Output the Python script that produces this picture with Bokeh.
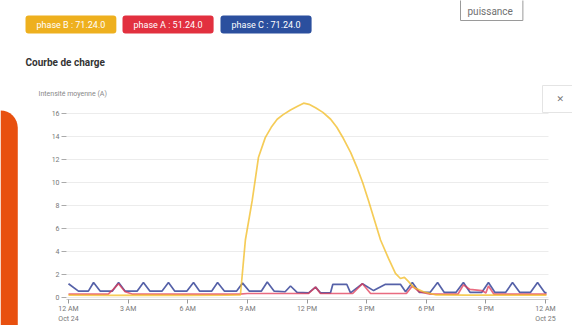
from bokeh.plotting import figure
from bokeh.models import (FixedTicker, Label, GlobalInlineStyleSheet, Range1d, LinearAxis, Grid)
from bokeh.embed import file_html
from bokeh.resources import INLINE

# ---------------- data (hours since 12 AM Oct 24) ----------------
phase_c_hours = [0.0, 0.5, 1.0, 1.26, 1.6, 2.2, 2.52, 2.85, 3.45, 3.77, 4.1, 4.7, 5.03, 5.35,
                 5.95, 6.29, 6.6, 7.2, 7.5, 7.85, 8.45, 8.76, 9.1, 9.7, 10.0, 10.35, 10.9,
                 11.17, 11.5, 12.08, 12.43, 12.68, 13.18, 13.3, 14.0, 14.19, 14.79, 15.35,
                 15.95, 16.7, 16.96, 17.3, 17.65, 18.2, 18.57, 18.9, 19.5, 19.87, 20.2, 20.8,
                 21.13, 21.45, 22.0, 22.34, 22.7, 23.25, 23.6, 23.95, 24.05]
phase_c_values = [1.2, 0.55, 0.55, 1.3, 0.55, 0.55, 1.3, 0.55, 0.55, 1.3, 0.55, 0.55, 1.3, 0.55,
                  0.55, 1.3, 0.55, 0.55, 1.3, 0.55, 0.55, 1.25, 0.55, 0.55, 1.35, 0.55, 0.5,
                  1.0, 0.45, 0.4, 0.9, 0.4, 0.4, 1.15, 1.15, 0.4, 1.2, 0.6,
                  1.15, 1.15, 0.5, 1.3, 0.45, 0.45, 1.3, 0.45, 0.45, 1.3, 0.45, 0.45,
                  1.3, 0.45, 0.45, 1.3, 0.45, 0.45, 1.3, 0.45, 0.4]

phase_a_hours = [0.0, 2.0, 2.25, 2.52, 2.85, 3.2, 6.0, 8.6, 9.0, 12.08, 12.43, 12.68, 14.3,
                 14.79, 15.2, 17.0, 17.3, 17.65, 18.2, 19.6, 19.87, 20.2, 20.8, 21.0,
                 21.13, 21.4, 24.05]
phase_a_values = [0.3, 0.3, 0.7, 1.2, 0.5, 0.3, 0.3, 0.3, 0.35, 0.35, 0.9, 0.35, 0.35,
                  1.2, 0.35, 0.35, 1.0, 0.5, 0.3, 0.3, 1.1, 0.7, 0.6, 0.4,
                  1.0, 0.3, 0.3]

phase_b_hours = [0.0, 2.0, 4.0, 6.0, 8.0, 8.65, 8.9, 9.24, 9.56, 9.9, 10.2, 10.5, 10.8, 11.17,
                 11.5, 11.83, 12.1, 12.43, 12.8, 13.19, 13.5, 13.84, 14.2, 14.54, 14.8, 15.1,
                 15.4, 15.7, 16.1, 16.45, 16.7, 16.9, 17.1, 17.36, 17.86, 18.5, 20.0, 22.0, 24.05]
phase_b_values = [0.2, 0.18, 0.2, 0.18, 0.2, 0.22, 5.0, 8.4, 12.2, 13.9, 14.8, 15.5, 15.9, 16.3,
                  16.6, 16.9, 16.8, 16.5, 16.1, 15.5, 14.8, 13.8, 12.6, 11.2, 10.0, 8.4,
                  6.7, 5.0, 3.4, 2.1, 1.65, 1.75, 1.4, 0.9, 0.5, 0.22, 0.2, 0.2, 0.2]

x_tick_hours = [0, 3, 6, 9, 12, 15, 18, 21, 24]
x_tick_labels = ["12 AM\nOct 24", "3 AM", "6 AM", "9 AM", "12 PM", "3 PM", "6 PM", "9 PM",
                 "12 AM\nOct 25"]
y_ticks = [0, 2, 4, 6, 8, 10, 12, 14, 16]

badge_texts = ["phase B : 71.24.0", "phase A : 51.24.0", "phase C : 71.24.0"]
badge_colors = ["#eeb01e", "#e2303f", "#2b4f9e"]

COL_B = "#f2bf2e"
COL_A = "#e23a55"
COL_C = "#42509e"

FONT = "Roboto"

# ---------------- figure: frame covers the whole canvas ----------------
W, H = 572, 325
X0_PX, PX_PER_H = 68.0, 19.875      # 12 AM Oct 24 position, pixels per hour
Y0_PX, PX_PER_A = 297.0, 11.5       # 0 A position, pixels per ampere

x_start = -X0_PX / PX_PER_H
x_end = (W - X0_PX) / PX_PER_H
y_start = -(H - Y0_PX) / PX_PER_A
y_end = Y0_PX / PX_PER_A

p = figure(width=W, height=H, output_backend="svg", toolbar_location=None,
           x_range=Range1d(x_start, x_end), y_range=Range1d(y_start, y_end),
           x_axis_location=None, y_axis_location=None,
           min_border=0)
p.stylesheets = [GlobalInlineStyleSheet(css="html,body{margin:0;padding:0;}")]
p.outline_line_color = None
p.background_fill_color = "white"
p.border_fill_color = "white"
p.xgrid.grid_line_color = None
p.ygrid.grid_line_color = None

plot_x_lo, plot_x_hi = -0.1, 24.15
axis_y = -0.17

grid = Grid(dimension=1, ticker=FixedTicker(ticks=y_ticks), grid_line_color="#ececec",
            cross_bounds=(plot_x_lo, plot_x_hi))
p.add_layout(grid)

p.line(phase_c_hours, phase_c_values, line_color=COL_C, line_width=1.7, line_alpha=0.9)
p.line(phase_a_hours, phase_a_values, line_color=COL_A, line_width=1.7, line_alpha=0.75)
p.line(phase_b_hours, phase_b_values, line_color=COL_B, line_width=1.7, line_alpha=0.8)

# axes
xaxis = LinearAxis(fixed_location=axis_y, bounds=(plot_x_lo, plot_x_hi),
                   ticker=FixedTicker(ticks=x_tick_hours))
xaxis.major_label_overrides = {h: t for h, t in zip(x_tick_hours, x_tick_labels)}
xaxis.axis_line_color = "#c8c8c8"
xaxis.major_tick_line_color = "#999999"
xaxis.major_tick_out = 4
xaxis.major_tick_in = 0
xaxis.minor_tick_line_color = None
xaxis.major_label_text_font_size = "7px"
xaxis.major_label_text_color = "#777777"
xaxis.major_label_text_font = FONT
xaxis.major_label_standoff = 2
p.add_layout(xaxis, "below")

yaxis = LinearAxis(fixed_location=plot_x_lo, bounds=(0, 16),
                   ticker=FixedTicker(ticks=y_ticks))
yaxis.axis_line_color = None
yaxis.major_tick_line_color = "#aaaaaa"
yaxis.major_tick_out = 5
yaxis.major_tick_in = 0
yaxis.minor_tick_line_color = None
yaxis.major_label_text_font_size = "7px"
yaxis.major_label_text_color = "#777777"
yaxis.major_label_text_font = FONT
yaxis.major_label_standoff = 2
p.add_layout(yaxis, "left")


def sx(px):
    return px


def sy(py):
    return H - py


# left orange bar
p.add_layout(Label(x=sx(0), y=sy(110), x_units="screen", y_units="screen", text=" ",
                   text_font_size="1px", anchor="top_left",
                   background_fill_color="#e8500f",
                   padding=dict(left=0, right=17, top=0, bottom=230),
                   border_radius=dict(top_left=0, top_right=24, bottom_right=0, bottom_left=0)))

# badges
badge_left = [25, 122, 220]
for bx, t, c in zip(badge_left, badge_texts, badge_colors):
    p.add_layout(Label(x=sx(bx), y=sy(15), x_units="screen", y_units="screen", text=t,
                       text_font=FONT, text_font_size="9px", text_color="white",
                       anchor="top_left", background_fill_color=c,
                       padding=dict(left=11, right=11, top=4, bottom=4), border_radius=3))

# title
p.add_layout(Label(x=sx(25), y=sy(62), x_units="screen", y_units="screen",
                   text="Courbe de charge", text_font=FONT, text_font_size="10px",
                   text_font_style="bold", text_color="#333333",
                   text_align="left", text_baseline="middle"))

# puissance button
p.add_layout(Label(x=sx(460), y=sy(-6), x_units="screen", y_units="screen",
                   text="puissance", text_font=FONT, text_font_size="10px",
                   text_color="#707070", anchor="top_left",
                   border_line_color="#9a9a9a", border_line_width=1,
                   background_fill_color="white",
                   padding=dict(left=7, right=10, top=11, bottom=4)))

# y axis title
p.add_layout(Label(x=sx(38), y=sy(93), x_units="screen", y_units="screen",
                   text="Intensité moyenne (A)", text_font=FONT, text_font_size="7px",
                   text_color="#888888", text_align="left", text_baseline="middle"))

# expand icon box
p.add_layout(Label(x=sx(542), y=sy(85), x_units="screen", y_units="screen",
                   text="✕", text_font="DejaVu Sans", text_font_size="9px",
                   text_color="#777777", anchor="top_left",
                   border_line_color="#e4e4e4", border_line_width=1,
                   padding=dict(left=14, right=30, top=8, bottom=9)))

open("out.html", "w").write(file_html(p, INLINE))
